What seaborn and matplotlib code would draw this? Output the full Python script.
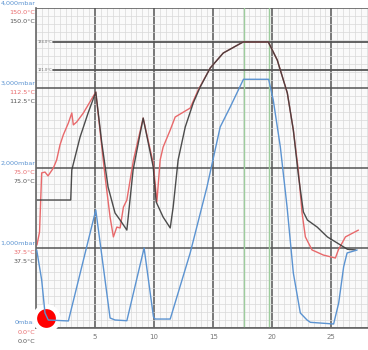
import numpy as np
import pandas as pd
import matplotlib
matplotlib.use("Agg")
import matplotlib.pyplot as plt
import seaborn as sns

# ---------- Data ----------
# chamber temperature (black), degC
time_black = [0.08, 2.94, 3.03, 3.73, 4.41, 5.06, 5.57, 6.10, 6.69, 7.12, 7.69,
              8.22, 9.07, 9.92, 10.17, 10.76, 11.36, 11.61, 12.03, 12.63, 13.31,
              13.90, 14.75, 15.85, 17.54, 19.66, 20.42, 21.27, 21.78, 22.20,
              22.63, 22.97, 23.80, 24.66, 25.51, 26.36, 27.04]
temp_black = [60.0, 60.0, 74.1, 89.5, 100.8, 110.6, 86.7, 66.1, 53.9, 50.6, 45.9,
              74.1, 98.4, 75.5, 59.1, 52.0, 46.9, 56.7, 78.8, 94.2, 105.5,
              113.0, 121.9, 128.9, 134.1, 134.1, 125.6, 110.2, 92.8, 72.0,
              54.4, 50.6, 47.3, 42.7, 39.8, 36.9, 36.6]

# load temperature (red), degC
time_red = [0.08, 0.30, 0.48, 0.76, 1.02, 1.47, 1.75, 2.03, 2.31, 2.74, 3.03,
            3.16, 3.45, 4.01, 5.06, 5.85, 6.27, 6.55, 6.84, 7.12, 7.40, 7.69,
            8.25, 9.07, 9.92, 10.23, 10.51, 10.76, 11.36, 11.78, 13.05, 13.73,
            14.75, 15.85, 17.54, 19.66, 20.42, 21.27, 21.78, 22.20, 22.52,
            22.80, 23.36, 24.32, 25.34, 25.59, 26.19, 27.29]
temp_red = [38.9, 45.0, 72.7, 73.1, 71.3, 75.0, 78.8, 85.8, 90.5, 96.1, 100.8,
            95.2, 96.6, 100.8, 110.6, 70.8, 52.0, 42.7, 47.3, 46.9, 56.7, 60.0,
            78.8, 98.4, 77.3, 59.1, 78.8, 84.8, 92.8, 98.9, 103.1, 111.6,
            121.9, 128.9, 134.1, 134.1, 125.6, 110.2, 92.8, 74.1, 53.9,
            42.7, 36.6, 34.2, 32.8, 36.6, 42.7, 45.9]

# chamber pressure (blue), mbar
time_press = [0.06, 0.48, 0.76, 1.04, 2.74, 5.06, 6.27, 6.69, 7.69, 9.15, 9.94,
              10.08, 11.36, 13.05, 14.47, 15.59, 16.44, 17.56, 19.69, 20.08,
              20.68, 21.25, 21.78, 22.37, 22.94, 23.22, 25.19, 25.62, 26.04,
              26.33, 27.18]
pressure = [975, 600, 188, 100, 88, 1475, 125, 100, 91, 1000, 141,
            112, 112, 938, 1763, 2513, 2763, 3109, 3109, 2850,
            2263, 1513, 688, 188, 100, 71, 50, 313, 766,
            938, 975]

mbar_levels = [0, 1000, 2000, 3000, 4000]
mbar_labels = ["0mbar", "1,000mbar", "2,000mbar", "3,000mbar", "4,000mbar"]
temp_levels = [0.0, 37.5, 75.0, 112.5, 150.0]
temp_labels = ["0.0°C", "37.5°C", "75.0°C", "112.5°C", "150.0°C"]
limit_temps = [134.0, 121.0]
limit_labels = ["134.0°C", "121.0°C"]
phase_marks = [17.6, 19.75]
x_ticks = [5, 10, 15, 20, 25]

df_black = pd.DataFrame({"t": time_black, "v": temp_black})
df_red = pd.DataFrame({"t": time_red, "v": temp_red})
df_press = pd.DataFrame({"t": time_press, "v": pressure})

# ---------- Plot ----------
sns.set_style("white")
plt.rcParams["font.family"] = ["DejaVu Sans"]

BLACK = "#3a3a3a"
RED = "#e8696b"
BLUE = "#5b93d1"

fig = plt.figure(figsize=(3.68, 3.5), dpi=100)
ax = fig.add_axes([36 / 368, 22 / 350, 332 / 368, 320 / 350])
ax.set_facecolor("#fafafa")
ax.set_xlim(0, 28.1)
ax.set_ylim(0, 150)

ax.set_xticks(x_ticks)
ax.set_xticks(np.arange(0, 28.5, 0.5), minor=True)
ax.set_yticks(temp_levels)
ax.set_yticks(np.arange(0, 150.1, 3.75), minor=True)
ax.grid(which="minor", color="#d8d8d8", lw=0.5)
ax.grid(which="major", color="#555555", lw=1.1)
ax.set_axisbelow(True)
ax.tick_params(which="both", length=0)
ax.tick_params(axis="x", labelsize=5, labelcolor="#777777", pad=4)
ax.set_yticklabels([])
for s in ["top", "right"]:
    ax.spines[s].set_visible(False)
for s in ["left", "bottom"]:
    ax.spines[s].set_color("#666666")
    ax.spines[s].set_linewidth(1.2)

for x in phase_marks:
    ax.axvline(x, color="#9ccc9c", lw=1, zorder=1)

for t, lab in zip(limit_temps, limit_labels):
    ax.axhline(t, xmin=0.05, color="#555555", lw=1.3, zorder=1)
    ax.text(0.006, t, lab, transform=ax.get_yaxis_transform(),
            fontsize=2.6, color="#666666", va="center", ha="left")

sns.lineplot(data=df_red, x="t", y="v", ax=ax, color=RED, lw=1,
             sort=False, estimator=None)
sns.lineplot(data=df_black, x="t", y="v", ax=ax, color=BLACK, lw=1,
             sort=False, estimator=None, alpha=0.9)
ax.set_xlabel("")
ax.set_ylabel("")

ax2 = ax.twinx()
ax2.set_ylim(0, 4000)
sns.lineplot(data=df_press, x="t", y="v", ax=ax2, color=BLUE, lw=1,
             sort=False, estimator=None)
ax2.set_yticks([])
ax2.set_ylabel("")
for s in ax2.spines.values():
    s.set_visible(False)

# stacked axis labels on the left
for lvl, ml, tl in zip(temp_levels, mbar_labels, temp_labels):
    ax.annotate(ml, (0, lvl), xytext=(-0.5, 3.6), textcoords="offset points",
                ha="right", va="center", fontsize=4.6, color=BLUE,
                annotation_clip=False)
    ax.annotate(tl, (0, lvl), xytext=(-0.5, -3.0), textcoords="offset points",
                ha="right", va="center", fontsize=4.6, color=RED,
                annotation_clip=False)
    ax.annotate(tl, (0, lvl), xytext=(-0.5, -10.0), textcoords="offset points",
                ha="right", va="center", fontsize=4.6, color="#555555",
                annotation_clip=False)

# recording indicator
ax.scatter([0.03], [0.032], transform=ax.transAxes, s=290, color="red",
           edgecolor="white", linewidth=3.5, zorder=10, clip_on=False)

fig.savefig("out.png", dpi=100)
